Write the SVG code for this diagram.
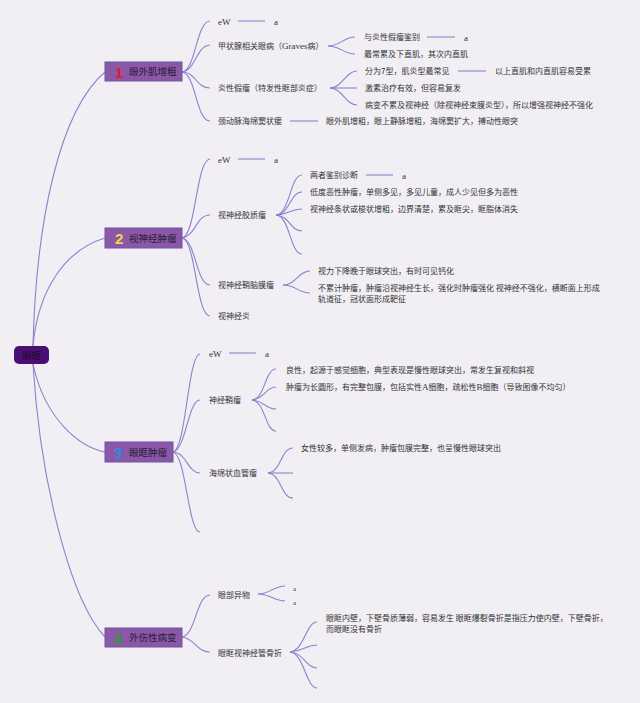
<svg xmlns="http://www.w3.org/2000/svg" width="640" height="703" viewBox="0 0 640 703">
<style>
.bg{fill:#f1eff4}
.c{fill:none;stroke:#8e80cc;stroke-width:1.1}
.t{font-family:"Noto Sans CJK SC","Noto Sans",sans-serif;font-size:8px;fill:#333}
.s{font-family:"Liberation Serif",serif;font-size:9px;fill:#333}
.m{fill:#8a58a6;stroke:#6e55a8;stroke-width:1}
.mt{font-family:"Noto Sans CJK SC","Noto Sans",sans-serif;font-size:9.5px;fill:#2a1a3a}
.n{font-family:"Liberation Sans",sans-serif;font-size:15px;font-weight:bold}
</style>
<rect class="bg" x="0" y="0" width="640" height="703"/>
<g id="connectors">
<path class="c" d="M33,346 C36,220 60,110 105,72"/>
<path class="c" d="M33,346 C38,290 65,250 105,238"/>
<path class="c" d="M33,364 C45,420 80,447 105,452"/>
<path class="c" d="M33,364 C40,480 70,600 105,637"/>
<path class="c" d="M182,72 C196,70 196,22 210,21"/>
<path class="c" d="M182,72 C196,70 196,46 210,45"/>
<path class="c" d="M182,72 C196,72 196,88 210,88"/>
<path class="c" d="M182,72 C196,74 196,121 210,121"/>
<path class="c" d="M238,21 H265"/>
<path class="c" d="M290,121 H318"/>
<path class="c" d="M328,46 C340,46 344,37 355,37"/>
<path class="c" d="M328,46 C340,46 344,54 355,54"/>
<path class="c" d="M427,37 H455"/>
<path class="c" d="M330,88 C342,88 346,71 357,71"/>
<path class="c" d="M330,88 H357"/>
<path class="c" d="M330,88 C342,88 346,105 357,105"/>
<path class="c" d="M458,71 H486"/>
<path class="c" d="M182,238 C196,236 196,160 210,159"/>
<path class="c" d="M182,238 C196,236 196,215 210,215"/>
<path class="c" d="M182,238 C196,240 196,285 210,285"/>
<path class="c" d="M182,238 C196,240 196,316 210,316"/>
<path class="c" d="M238,159 H265"/>
<path class="c" d="M276,215 C290,214 290,175 302,175"/>
<path class="c" d="M276,215 C290,214 290,192 302,192"/>
<path class="c" d="M276,215 C290,214 290,209 302,209"/>
<path class="c" d="M276,215 C290,216 290,231 302,231"/>
<path class="c" d="M276,215 C290,216 290,254 302,254"/>
<path class="c" d="M366,175 H393"/>
<path class="c" d="M283,285 C296,285 298,271 310,271"/>
<path class="c" d="M283,285 C296,285 298,293 310,293"/>
<path class="c" d="M173,452 C186,450 188,354 200,354"/>
<path class="c" d="M173,452 C186,450 188,400 200,400"/>
<path class="c" d="M173,452 C186,452 188,473 200,473"/>
<path class="c" d="M173,452 C186,454 188,532 200,532"/>
<path class="c" d="M229,353 H256"/>
<path class="c" d="M252,400 C265,399 265,369 276,369"/>
<path class="c" d="M252,400 C265,399 265,387 276,387"/>
<path class="c" d="M252,400 C265,401 265,409 276,409"/>
<path class="c" d="M252,400 C265,401 265,431 276,431"/>
<path class="c" d="M268,473 C281,472 281,448 293,448"/>
<path class="c" d="M268,473 H293"/>
<path class="c" d="M268,473 C281,474 281,498 293,498"/>
<path class="c" d="M182,637 C196,635 196,595 210,595"/>
<path class="c" d="M182,637 C196,639 196,652 210,652"/>
<path class="c" d="M258,594 C270,594 274,586 285,586"/>
<path class="c" d="M258,594 C270,594 274,601 285,601"/>
<path class="c" d="M290,652 C304,651 306,622 317,622"/>
<path class="c" d="M290,652 C304,651 306,645 317,645"/>
<path class="c" d="M290,652 C304,653 306,668 317,668"/>
<path class="c" d="M290,652 C304,653 306,688 317,688"/>
</g>
<g id="root">
<rect x="14" y="346" width="35" height="18" rx="5" fill="#4a0f72"/>
<text class="mt" x="31.5" y="358.5" text-anchor="middle" fill="#1c0a2c" style="fill:#1c0a2c">眼眶</text>
</g>
<g id="n1">
<rect class="m" x="105" y="62" width="77" height="19"/>
<text class="n" x="115" y="77.5" fill="#e0192e">1</text>
<text class="mt" x="129" y="75">眼外肌增粗</text>
</g>
<g id="n2">
<rect class="m" x="105" y="228" width="77" height="20"/>
<text class="n" x="115" y="243.5" fill="#f3d54a">2</text>
<text class="mt" x="129" y="241.5">视神经肿瘤</text>
</g>
<g id="n3">
<rect class="m" x="105" y="442" width="68" height="20"/>
<text class="n" x="114" y="457.5" fill="#2a8fe0">3</text>
<text class="mt" x="129" y="455.5">眼眶肿瘤</text>
</g>
<g id="n4">
<rect class="m" x="105" y="628" width="77" height="19"/>
<text class="n" x="114" y="643.5" fill="#2a9a3a">4</text>
<text class="mt" x="129" y="641">外伤性病变</text>
</g>
<g id="b1">
<text class="s" x="218" y="25">eW</text>
<text class="s" x="274" y="25">a</text>
<text class="t" x="218" y="49">甲状腺相关眼病（<tspan class="s">Graves</tspan>病）</text>
<text class="t" x="218" y="91">炎性假瘤（特发性眶部炎症）</text>
<text class="t" x="218" y="124">颈动脉海绵窦状瘘</text>
<text class="t" x="326" y="124">眼外肌增粗，眼上静脉增粗，海绵窦扩大，搏动性眼突</text>
<text class="t" x="364" y="40">与炎性假瘤鉴别</text>
<text class="s" x="464" y="41">a</text>
<text class="t" x="364" y="57">最常累及下直肌，其次内直肌</text>
<text class="t" x="365" y="74">分为7型，肌炎型最常见</text>
<text class="t" x="495" y="74">以上直肌和内直肌容易受累</text>
<text class="t" x="365" y="91">激素治疗有效，但容易复发</text>
<text class="t" x="365" y="108">病变不累及视神经（除视神经束膜炎型），所以增强视神经不强化</text>
</g>
<g id="b2">
<text class="s" x="218" y="163">eW</text>
<text class="s" x="274" y="163">a</text>
<text class="t" x="218" y="218">视神经胶质瘤</text>
<text class="t" x="218" y="288">视神经鞘脑膜瘤</text>
<text class="t" x="218" y="319">视神经炎</text>
<text class="t" x="310" y="178">两者鉴别诊断</text>
<text class="s" x="402" y="179">a</text>
<text class="t" x="310" y="195">低度恶性肿瘤，单侧多见，多见儿童，成人少见但多为恶性</text>
<text class="t" x="310" y="212">视神经条状或梭状增粗，边界清楚，累及眶尖，眶脂体消失</text>
<text class="t" x="318" y="274">视力下降晚于眼球突出，有时可见钙化</text>
<text class="t" x="318" y="291">不累计肿瘤，肿瘤沿视神经生长，强化时肿瘤强化 视神经不强化，横断面上形成</text>
<text class="t" x="318" y="302">轨道征，冠状面形成靶征</text>
</g>
<g id="b3">
<text class="s" x="209" y="357">eW</text>
<text class="s" x="265" y="357">a</text>
<text class="t" x="209" y="403">神经鞘瘤</text>
<text class="t" x="209" y="476">海绵状血管瘤</text>
<text class="t" x="286" y="373">良性，起源于感觉细胞，典型表现是慢性眼球突出，常发生复视和斜视</text>
<text class="t" x="286" y="390">肿瘤为长圆形，有完整包膜，包括实性<tspan class="s">A</tspan>细胞，疏松性<tspan class="s">B</tspan>细胞（导致图像不均匀）</text>
<text class="t" x="301" y="451">女性较多，单侧发病，肿瘤包膜完整，也呈慢性眼球突出</text>
</g>
<g id="b4">
<text class="t" x="218" y="598">眼部异物</text>
<text class="t" x="218" y="656">眼眶视神经管骨折</text>
<text class="s" x="293" y="591" style="font-size:7px">a</text>
<text class="s" x="293" y="605" style="font-size:7px">a</text>
<text class="t" x="326" y="621">眼眶内壁，下壁骨质薄弱，容易发生 眼眶爆裂骨折是指压力使内壁，下壁骨折，</text>
<text class="t" x="326" y="632">而眼眶没有骨折</text>
</g>
</svg>
